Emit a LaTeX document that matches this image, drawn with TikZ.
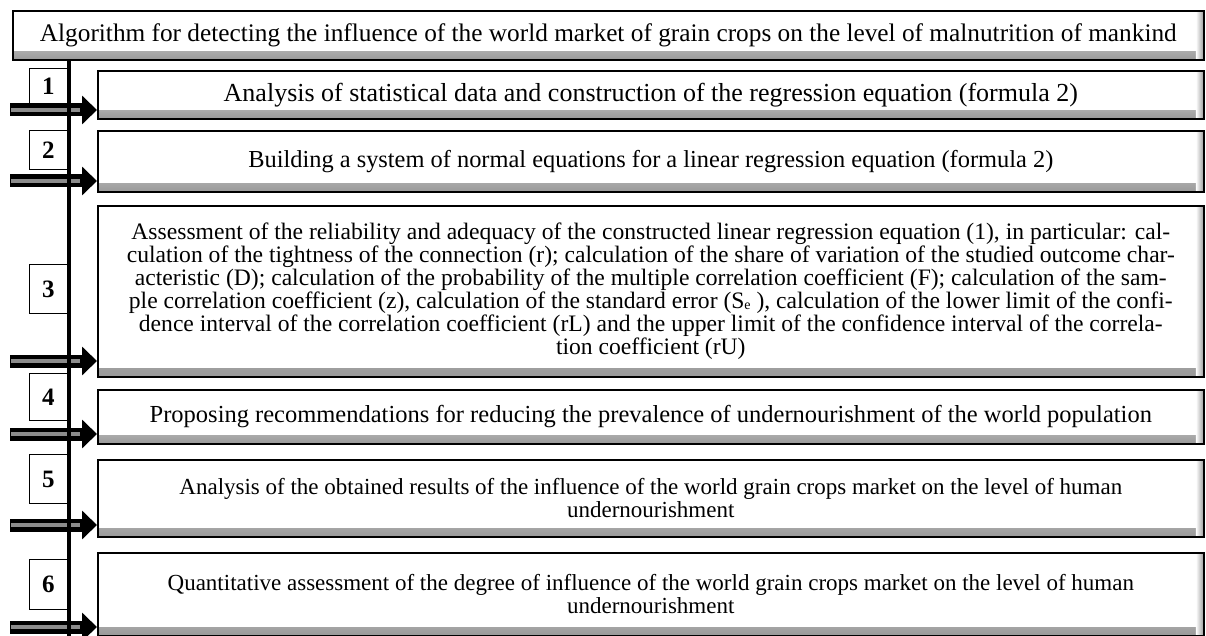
\documentclass[tikz,border=0pt]{standalone}
\usepackage{fontspec}
\setmainfont{Liberation Serif}
\usetikzlibrary{arrows.meta}

\begin{document}
\begin{tikzpicture}[
    x=1pt, y=-1pt,
    stepbox/.style={
      draw=black,
      line width=1.6pt,
      fill=white,
      inner sep=0pt,
      anchor=north west,
      minimum width=1106pt,
      align=center,
      font=\fontsize{23}{23}\selectfont,
      path picture={
        \shade[top color=white,bottom color=black!40]
          ([yshift=8pt]path picture bounding box.south west)
          rectangle (path picture bounding box.south east);
        \shade[left color=white,right color=black!40]
          ([xshift=-8pt]path picture bounding box.north east)
          rectangle (path picture bounding box.south east);
      }
    },
    numbox/.style={
      draw=black,
      line width=1.3pt,
      fill=white,
      anchor=north east,
      minimum width=38pt,
      inner sep=0pt,
      font=\fontsize{25}{25}\selectfont\bfseries
    },
    shaft/.style={
      line width=13pt,
      -{Triangle[length=15pt,width=28pt]}
    }
  ]
    \useasboundingbox (0,0) rectangle (1206,636);

    % title
    \node[stepbox,minimum width=1191pt,minimum height=49pt,
          font=\fontsize{25.3}{26}\selectfont] (title) at (12,10)
      {Algorithm for detecting the influence of the world market of grain crops on the level of malnutrition of mankind};

    % steps
    \node[stepbox,minimum height=48pt,font=\fontsize{26}{26}\selectfont] (b1) at (97,70)
      {Analysis of statistical data and construction of the regression equation (formula 2)};
    \node[stepbox,minimum height=61pt,font=\fontsize{24.4}{25}\selectfont] (b2) at (97,130)
      {Building a system of normal equations for a linear regression equation (formula 2)};
    \node[stepbox,minimum height=171pt,font=\fontsize{23.6}{23}\selectfont] (b3) at (97,205)
      {Assessment of the reliability and adequacy of the constructed linear regression equation (1), in particular: cal-\\
       culation of the tightness of the connection (r); calculation of the share of variation of the studied outcome char-\\
       acteristic (D); calculation of the probability of the multiple correlation coefficient (F); calculation of the sam-\\
       ple correlation coefficient (z), calculation of the standard error (S{\fontsize{14}{14}\selectfont\raisebox{-1pt}{e}} ), calculation of the lower limit of the confi-\\
       dence interval of the correlation coefficient (rL) and the upper limit of the confidence interval of the correla-\\
       tion coefficient (rU)};
    \node[stepbox,minimum height=54pt,font=\fontsize{24.5}{25}\selectfont] (b4) at (97,389)
      {Proposing recommendations for reducing the prevalence of undernourishment of the world population};
    \node[stepbox,minimum height=77pt] (b5) at (97,459)
      {Analysis of the obtained results of the influence of the world grain crops market on the level of human\\
       undernourishment};
    \node[stepbox,minimum height=83pt] (b6) at (97,552)
      {Quantitative assessment of the degree of influence of the world grain crops market on the level of human\\
       undernourishment};

    % numbers
    \foreach \n/\t/\h in {1/68/35,2/130/39,3/264/49,4/373/47,5/454/49,6/559/50}
      \node[numbox,minimum height=\h pt] (n\n) at (68,\t) {\n};

    % arrows into the steps
    \foreach \n/\y in {1/110,2/181,3/361,4/434,5/525,6/627} {
      \coordinate (s\n) at (10,\y);
      \draw[shaft] (s\n) -- (b\n.west |- s\n);
      \draw[black!45,line width=4pt] ([xshift=1pt]s\n) -- ([xshift=-17pt]b\n.west |- s\n);
    }

    % spine
    \coordinate (spine) at (69,636);
    \draw[line width=3.2pt] (title.south -| spine) -- (spine);
  \end{tikzpicture}
\end{document}
